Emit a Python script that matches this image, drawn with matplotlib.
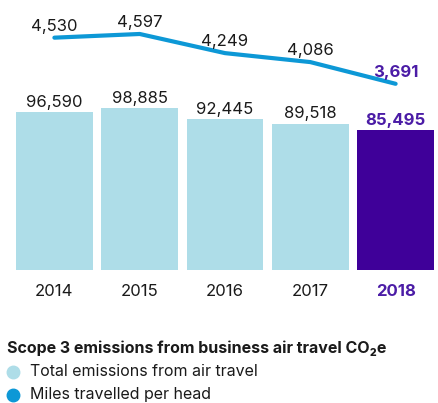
import matplotlib
matplotlib.use("Agg")
import matplotlib.pyplot as plt
from matplotlib.lines import Line2D

# ── Data ──────────────────────────────────────────────────────────────────────
years = ["2014", "2015", "2016", "2017", "2018"]
emissions = [96590, 98885, 92445, 89518, 85495]
miles_per_head = [4530, 4597, 4249, 4086, 3691]
legend_labels = ["Total emissions from air travel", "Miles travelled per head"]

# ── Style ─────────────────────────────────────────────────────────────────────
FONT = ["Inter", "DejaVu Sans"]
plt.rcParams["font.family"] = FONT
BAR_COLOR = "#aedde8"
HIGHLIGHT = "#3f0099"
LABEL_HI = "#4b1ca6"
LINE_COLOR = "#0d98d6"
TEXT = "#1a1a1a"

fig = plt.figure(figsize=(4.39, 4.03), dpi=100)
W, H = 439, 403
ax = fig.add_axes([16 / W, (H - 270) / H, (434 - 16) / W, 270 / H])

x = list(range(len(years)))
colors = [BAR_COLOR] * (len(years) - 1) + [HIGHLIGHT]
bars = ax.bar(x, emissions, width=0.9, color=colors)
ax.set_xlim(-0.45, len(years) - 0.55)
ax.set_ylim(0, 165060)

for i, (b, v) in enumerate(zip(bars, emissions)):
    last = i == len(years) - 1
    ax.annotate(f"{v:,}", (b.get_x() + b.get_width() / 2, v),
                xytext=(0, 1.5), textcoords="offset points",
                ha="center", va="bottom", fontsize=12,
                color=LABEL_HI if last else TEXT,
                fontweight="bold" if last else "normal")

ax.set_xticks(x)
ax.set_xticklabels(years, fontsize=12, color=TEXT)
for i, lbl in enumerate(ax.get_xticklabels()):
    if i == len(years) - 1:
        lbl.set_color(LABEL_HI)
        lbl.set_fontweight("bold")
ax.tick_params(axis="x", length=0, pad=10)
ax.set_yticks([])
for s in ax.spines.values():
    s.set_visible(False)

# miles line on its own scale
ax2 = ax.twinx()
ax2.set_ylim(305, 5215)
ax2.plot(x, miles_per_head, color=LINE_COLOR, lw=3, solid_capstyle="round",
         solid_joinstyle="round")
ax2.set_yticks([])
for s in ax2.spines.values():
    s.set_visible(False)
for i, v in enumerate(miles_per_head):
    last = i == len(years) - 1
    ax2.annotate(f"{v:,}", (i, v), xytext=(0, 3), textcoords="offset points",
                 ha="center", va="bottom", fontsize=12,
                 color=LABEL_HI if last else TEXT,
                 fontweight="bold" if last else "normal")

# ── Legend (drawn by hand in figure pixels) ───────────────────────────────────
fig.text(7 / W, 1 - 348 / H, "Scope 3 emissions from business air travel CO₂e",
         fontsize=11.5, fontweight="bold", color=TEXT, va="center", ha="left")
for y_px, col, lab in zip([372, 395], [BAR_COLOR, LINE_COLOR], legend_labels):
    fig.add_artist(Line2D([13 / W], [1 - y_px / H], marker="o", ls="",
                          color=col, markersize=9, transform=fig.transFigure))
    fig.text(30 / W, 1 - y_px / H, lab, fontsize=11.5, color=TEXT,
             va="center", ha="left")

fig.savefig("out.png", dpi=100)
